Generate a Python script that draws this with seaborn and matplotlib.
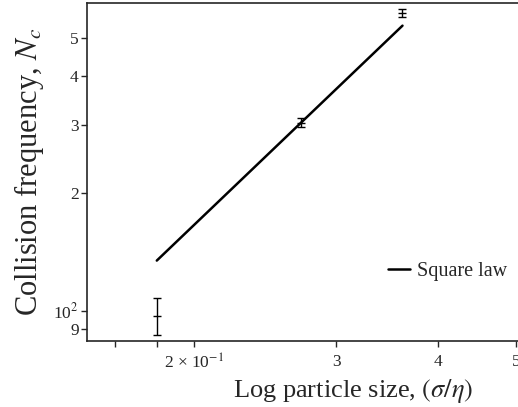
import matplotlib
matplotlib.use("Agg")
import matplotlib.pyplot as plt
import seaborn as sns
import pandas as pd
from matplotlib.ticker import FixedLocator, FixedFormatter, NullLocator

# Data
pt_x = [0.18, 0.271, 0.362]
pt_y = [97.0, 303.0, 579.0]
pt_err = [10.5, 8.0, 14.0]

law_x = [0.18, 0.362]
law_y = [134.4, 538.0]

xtick_vals = [0.16, 0.18, 0.2, 0.3, 0.4, 0.5]
xtick_labels = ["", "", "2 × 10$^{-1}$", "3", "4", "5"]
ytick_vals = [90, 100, 200, 300, 400, 500]
ytick_labels = ["9", "10$^2$", "2", "3", "4", "5"]

sns.set_style("ticks")
plt.rcParams["font.family"] = ["Liberation Serif", "DejaVu Serif"]
plt.rcParams["mathtext.fontset"] = "stix"

fig = plt.figure(figsize=(5.18, 4.07), dpi=100)
ax = fig.add_axes([87/518, 66/407, (619-87)/518, 338/407])

df = pd.DataFrame({"x": law_x, "y": law_y, "s": ["Square law"] * len(law_x)})
sns.lineplot(data=df, x="x", y="y", hue="s", palette=["black"], lw=1.8, ax=ax)

ax.errorbar(pt_x, pt_y, yerr=pt_err, fmt="_", color="black", ms=6,
            elinewidth=1.0, capsize=3, capthick=1.0, mew=1.0)

ax.set_xscale("log")
ax.set_yscale("log")
ax.set_xlim(0.1476, 0.67)
ax.set_ylim(83.6, 615)

ax.xaxis.set_major_locator(FixedLocator(xtick_vals))
ax.xaxis.set_major_formatter(FixedFormatter(xtick_labels))
ax.xaxis.set_minor_locator(NullLocator())
ax.yaxis.set_major_locator(FixedLocator(ytick_vals))
ax.yaxis.set_major_formatter(FixedFormatter(ytick_labels))
ax.yaxis.set_minor_locator(NullLocator())

ax.tick_params(axis="both", direction="out", length=4, width=1.0, labelsize=12.5, pad=2)
ax.tick_params(axis="x", pad=5)
for side in ["left", "bottom", "top", "right"]:
    ax.spines[side].set_linewidth(1.2)
    ax.spines[side].set_visible(True)

ax.set_xlabel(r"Log particle size, $(\sigma/\eta)$", fontsize=19, labelpad=3)
ax.set_ylabel(r"Collision frequency, $N_c$", fontsize=22, labelpad=5)

leg = ax.legend(loc="center left", bbox_to_anchor=(0.532, 0.205), frameon=False,
                fontsize=14.5, handlelength=1.1, handletextpad=0.35)
leg.set_title(None)

fig.savefig("out.png", dpi=100)
